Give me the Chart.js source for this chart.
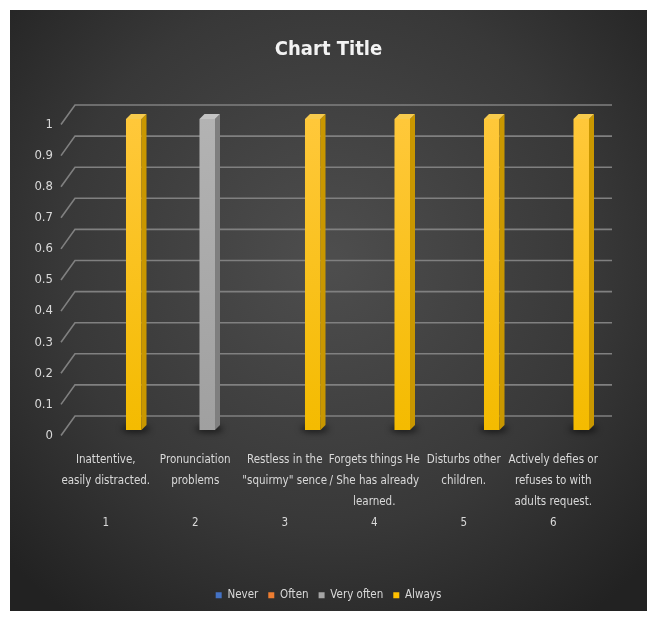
<!DOCTYPE html>
<html><head><meta charset="utf-8">
<script src="https://cdn.jsdelivr.net/npm/chart.js@4.4.1/dist/chart.umd.min.js"></script>
<style>html,body{margin:0;padding:0;background:#fff;overflow:hidden}#wrap{width:658px;height:621px;position:relative}</style>
</head><body><div id="wrap"><canvas id="c" width="658" height="621"></canvas></div>
<script>
const categoryText = [
  ["Inattentive,", "easily distracted."],
  ["Pronunciation", "problems"],
  ["Restless in the", "\"squirmy\" sence"],
  ["Forgets things He", "/ She has already", "learned."],
  ["Disturbs other", "children."],
  ["Actively defies or", "refuses to with", "adults request."]
];
const categoryNumbers = ["1", "2", "3", "4", "5", "6"];
const seriesNames = ["Never", "Often", "Very often", "Always"];
const neverValues = [0, 0, 0, 0, 0, 0];
const oftenValues = [0, 0, 0, 0, 0, 0];
const veryOftenValues = [0, 1, 0, 0, 0, 0];
const alwaysValues = [1, 0, 1, 1, 1, 1];
const yTickValues = [0, 0.1, 0.2, 0.3, 0.4, 0.5, 0.6, 0.7, 0.8, 0.9, 1];
const yTickLabels = ["0", "0.1", "0.2", "0.3", "0.4", "0.5", "0.6", "0.7", "0.8", "0.9", "1"];
const chartTitle = "Chart Title";

const FONT = "'Liberation Sans Narrow','DejaVu Sans Condensed','DejaVu Sans',sans-serif";
const colors = {
  "Never": {front: "#4472c4", top: "#6a8fd3", side: "#33599f"},
  "Often": {front: "#ed7d31", top: "#f19a5c", side: "#bf6221"},
  "Very often": {front: "#a5a5a5", top: "#c3c3c3", side: "#7f7f7f"},
  "Always": {front: "#ffc000", top: "#f7cb4d", side: "#c99700"}
};

const labels = categoryText.map((lines, i) => {
  const l = lines.slice();
  while (l.length < 3) l.push("");
  l.push(categoryNumbers[i]);
  return l;
});

const seriesValues = [neverValues, oftenValues, veryOftenValues, alwaysValues];

const DX = 5, DY = 5;

function frontFill(name) {
  return (ctx) => {
    const chart = ctx.chart; const ca = chart.chartArea;
    if (!ca) return colors[name].front;
    const g = chart.ctx.createLinearGradient(0, ca.top, 0, ca.bottom);
    if (name === "Always") { g.addColorStop(0, "#ffc83a"); g.addColorStop(1, "#f4bb00"); }
    else if (name === "Very often") { g.addColorStop(0, "#b3b3b3"); g.addColorStop(1, "#a0a0a0"); }
    else { g.addColorStop(0, colors[name].front); g.addColorStop(1, colors[name].front); }
    return g;
  };
}

const bgPlugin = {
  id: "bgPanel",
  beforeDraw(chart) {
    const ctx = chart.ctx;
    ctx.save();
    ctx.fillStyle = "#ffffff";
    ctx.fillRect(0, 0, chart.width, chart.height);
    const g = ctx.createRadialGradient(329, 260, 10, 329, 260, 440);
    g.addColorStop(0, "#4d4d4d");
    g.addColorStop(0.6, "#383838");
    g.addColorStop(1, "#222222");
    ctx.fillStyle = g;
    ctx.fillRect(10, 10, 637, 601);
    ctx.restore();
  }
};

const gridPlugin = {
  id: "grid3d",
  beforeDatasetsDraw(chart) {
    const ctx = chart.ctx, ys = chart.scales.y, ca = chart.chartArea;
    ctx.save();
    ctx.strokeStyle = "#808080";
    ctx.lineWidth = 1.6;
    yTickValues.forEach(v => {
      const y = ys.getPixelForValue(v);
      const fx = ca.left - 4, fy = y + 5.5;
      const bx = fx + 14, by = y - 14;
      ctx.beginPath();
      ctx.moveTo(fx, fy);
      ctx.lineTo(bx, by);
      ctx.lineTo(ca.right + 10, by);
      ctx.stroke();
    });
    chart.getSortedVisibleDatasetMetas().forEach(meta => {
      meta.data.forEach(el => {
        if (Math.abs(el.base - el.y) < 1) return;
        ctx.save();
        ctx.filter = "blur(3px)";
        ctx.fillStyle = "rgba(0,0,0,0.6)";
        ctx.beginPath();
        ctx.ellipse(el.x + 2, el.base - 1, el.width * 0.9, 3.5, 0, 0, Math.PI * 2);
        ctx.fill();
        ctx.restore();
      });
    });
    ctx.restore();
  }
};

const facesPlugin = {
  id: "faces3d",
  afterDatasetsDraw(chart) {
    const ctx = chart.ctx;
    ctx.save();
    chart.getSortedVisibleDatasetMetas().forEach(meta => {
      const name = seriesNames[meta.index];
      meta.data.forEach(el => {
        if (Math.abs(el.base - el.y) < 1) return;
        const l = el.x - el.width / 2, r = el.x + el.width / 2, t = el.y, b = el.base;
        ctx.fillStyle = colors[name].side;
        ctx.beginPath();
        ctx.moveTo(r, t); ctx.lineTo(r + DX, t - DY); ctx.lineTo(r + DX, b - DY); ctx.lineTo(r, b);
        ctx.closePath(); ctx.fill();
        ctx.fillStyle = colors[name].top;
        ctx.beginPath();
        ctx.moveTo(l, t); ctx.lineTo(l + DX, t - DY); ctx.lineTo(r + DX, t - DY); ctx.lineTo(r, t);
        ctx.closePath(); ctx.fill();
      });
    });
    ctx.restore();
  }
};

new Chart(document.getElementById("c"), {
  type: "bar",
  data: {
    labels: labels,
    datasets: seriesNames.map((name, i) => ({
      label: name,
      data: seriesValues[i],
      backgroundColor: frontFill(name),
      borderWidth: 0,
      categoryPercentage: 0.715,
      barPercentage: 0.97
    }))
  },
  options: {
    responsive: false,
    animation: false,
    devicePixelRatio: 1,
    layout: {padding: {left: 9, right: 10, top: 10, bottom: 10}},
    plugins: {
      tooltip: {enabled: false},
      title: {
        display: true,
        text: chartTitle,
        color: "#f2f2f2",
        font: {family: FONT, size: 20, weight: "bold", lineHeight: 1.2},
        padding: {top: 28, bottom: 57}
      },
      legend: {
        position: "bottom",
        labels: {
          color: "#d9d9d9",
          font: {family: FONT, size: 11.5},
          boxWidth: 6,
          boxHeight: 6,
          padding: 10,
          generateLabels(chart) {
            return seriesNames.map((name, i) => ({
              text: name, fillStyle: colors[name].front, strokeStyle: colors[name].front,
              lineWidth: 0, hidden: false, datasetIndex: i, fontColor: "#d9d9d9"
            }));
          }
        }
      }
    },
    scales: {
      x: {
        grid: {display: false, drawTicks: false},
        border: {display: false},
        ticks: {
          color: "#d9d9d9",
          font: {family: FONT, size: 11.5, lineHeight: 1.826},
          padding: 20,
          labelOffset: -4,
          maxRotation: 0,
          autoSkip: false
        },
        afterFit(s) { s.height = 149.5; }
      },
      y: {
        min: 0, max: 1,
        grid: {display: false, drawTicks: false},
        border: {display: false},
        ticks: {
          stepSize: 0.1,
          color: "#d9d9d9",
          font: {family: FONT, size: 13},
          padding: 12,
          labelOffset: 5.5,
          callback: (v, i) => yTickLabels[i]
        },
        afterFit(s) { s.width = 56; }
      },
      yRight: {
        position: "right",
        display: true,
        min: 0, max: 1,
        grid: {display: false, drawTicks: false},
        border: {display: false},
        ticks: {display: false},
        afterFit(s) { s.width = 46; }
      }
    }
  },
  plugins: [bgPlugin, gridPlugin, facesPlugin]
});
</script>
</body></html>
